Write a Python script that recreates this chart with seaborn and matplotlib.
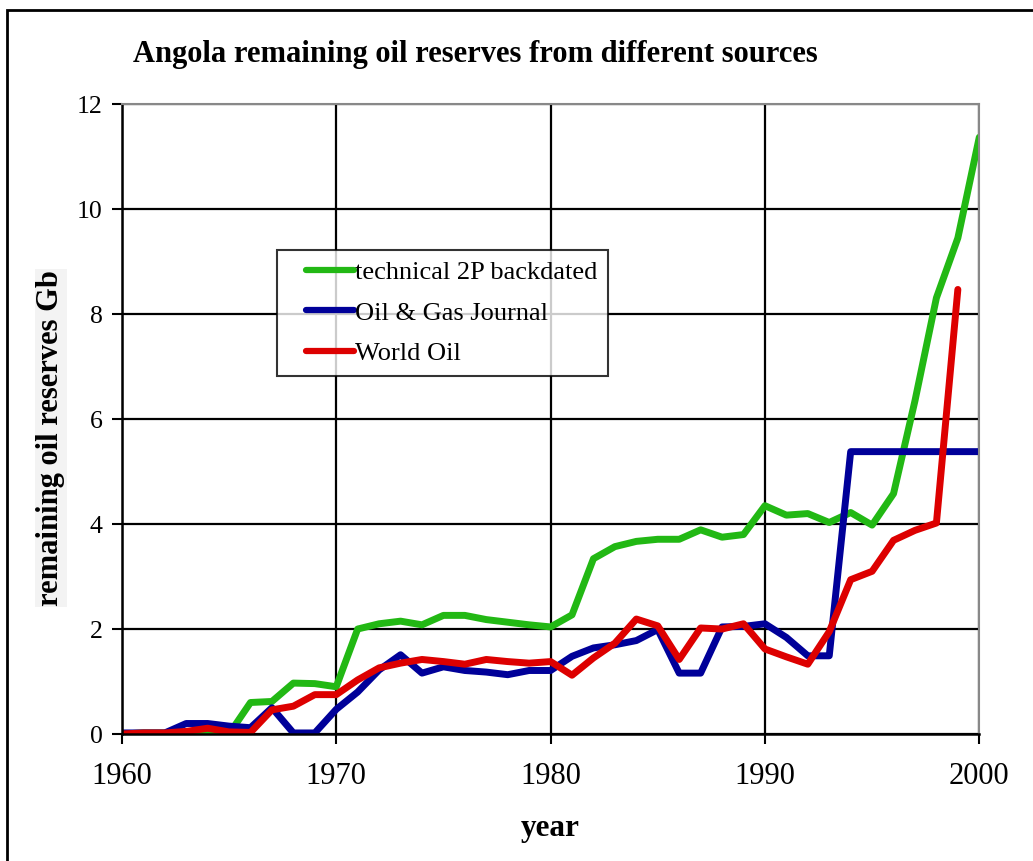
import numpy as np
import pandas as pd
import matplotlib
matplotlib.use("Agg")
import matplotlib.pyplot as plt
import seaborn as sns

years = list(range(1960, 2001))

technical_2p = [0.0, 0.02, 0.02, 0.03, 0.0, 0.0, 0.6, 0.62, 0.97, 0.96, 0.9,
                2.0, 2.1, 2.15, 2.08, 2.26, 2.26, 2.18, 2.13, 2.08, 2.04,
                2.27, 3.34, 3.57, 3.67, 3.71, 3.71, 3.89, 3.75, 3.8, 4.35,
                4.17, 4.2, 4.03, 4.22, 3.98, 4.58, 6.35, 8.31, 9.45, 11.37]

ogj = [0.02, 0.02, 0.02, 0.2, 0.2, 0.15, 0.12, 0.5, 0.02, 0.02, 0.47,
       0.8, 1.22, 1.51, 1.16, 1.28, 1.21, 1.18, 1.13, 1.21, 1.21,
       1.48, 1.64, 1.7, 1.78, 1.99, 1.16, 1.16, 2.04, 2.05, 2.1,
       1.84, 1.49, 1.49, 5.38, 5.38, 5.38, 5.38, 5.38, 5.38, 5.38]

world_oil = [0.0, 0.02, 0.02, 0.05, 0.11, 0.04, 0.03, 0.46, 0.53, 0.75, 0.75,
             1.03, 1.26, 1.35, 1.42, 1.38, 1.33, 1.42, 1.38, 1.35, 1.38,
             1.12, 1.45, 1.73, 2.19, 2.06, 1.42, 2.02, 2.0, 2.1, 1.62,
             1.47, 1.33, 1.95, 2.94, 3.1, 3.69, 3.88, 4.02, 8.47, np.nan]

names = ["technical 2P backdated", "Oil & Gas Journal", "World Oil"]
colors = ["#22b814", "#000099", "#dd0000"]

df = pd.concat([
    pd.DataFrame({"year": years, "reserves": technical_2p, "source": names[0]}),
    pd.DataFrame({"year": years, "reserves": ogj, "source": names[1]}),
    pd.DataFrame({"year": years, "reserves": world_oil, "source": names[2]}),
], ignore_index=True)

sns.set_style("white")
plt.rcParams["font.family"] = ["Liberation Serif", "DejaVu Serif"]
plt.rcParams["text.color"] = "black"
plt.rcParams["axes.labelcolor"] = "black"

fig = plt.figure(figsize=(10.33, 8.61), dpi=100)
ax = fig.add_axes([0.118, 0.1475, 0.83, 0.7315])

sns.lineplot(data=df, x="year", y="reserves", hue="source",
             palette=dict(zip(names, colors)), hue_order=names,
             linewidth=5, ax=ax, legend=True)

ax.set_xlim(1960, 2000)
ax.set_ylim(0, 12)
ax.set_xticks(range(1960, 2001, 10))
ax.set_yticks(range(0, 13, 2))
ax.grid(True, color="black", linewidth=1.6)
ax.set_axisbelow(True)
ax.tick_params(axis="both", direction="out", length=7, width=1.5,
               colors="black", left=True, bottom=True)
ax.tick_params(axis="x", labelsize=22, pad=13)
ax.tick_params(axis="y", labelsize=18.5, pad=7)

for side in ["left", "bottom"]:
    ax.spines[side].set_color("black")
    ax.spines[side].set_linewidth(1.8)
for side in ["top", "right"]:
    ax.spines[side].set_color("#888888")
    ax.spines[side].set_linewidth(1.5)

ax.set_xlabel("year", fontsize=22.5, fontweight="bold", labelpad=17)
ax.set_ylabel("remaining oil reserves Gb", fontsize=22, fontweight="bold",
              bbox=dict(facecolor="#f3f3f3", edgecolor="none", pad=1))
ax.yaxis.set_label_coords(-0.066, 0.47)

fig.text(0.129, 0.937, "Angola remaining oil reserves from different sources",
         fontsize=22, fontweight="bold", va="center", ha="left")

leg = ax.legend(loc="upper left", bbox_to_anchor=(0.181, 0.768), fontsize=19,
                frameon=True, fancybox=False, edgecolor="black",
                handlelength=2.5, handletextpad=0.05, borderpad=0.4,
                labelspacing=0.64, borderaxespad=0)
leg.get_frame().set_linewidth(1.5)
for line in leg.get_lines():
    line.set_linewidth(4.5)
    line.set_solid_capstyle("round")
    xd = np.asarray(line.get_xdata(), dtype=float)
    x1 = xd.max()
    line.set_xdata([x1 - 34, x1])
    line.set_ydata([np.asarray(line.get_ydata(), dtype=float)[0]] * 2)

border = plt.Rectangle((0.0068, -0.05), 1.1, 1.038, transform=fig.transFigure,
                       fill=False, edgecolor="black", linewidth=2)
fig.patches.append(border)

fig.savefig("out.png", dpi=100, facecolor="white")
